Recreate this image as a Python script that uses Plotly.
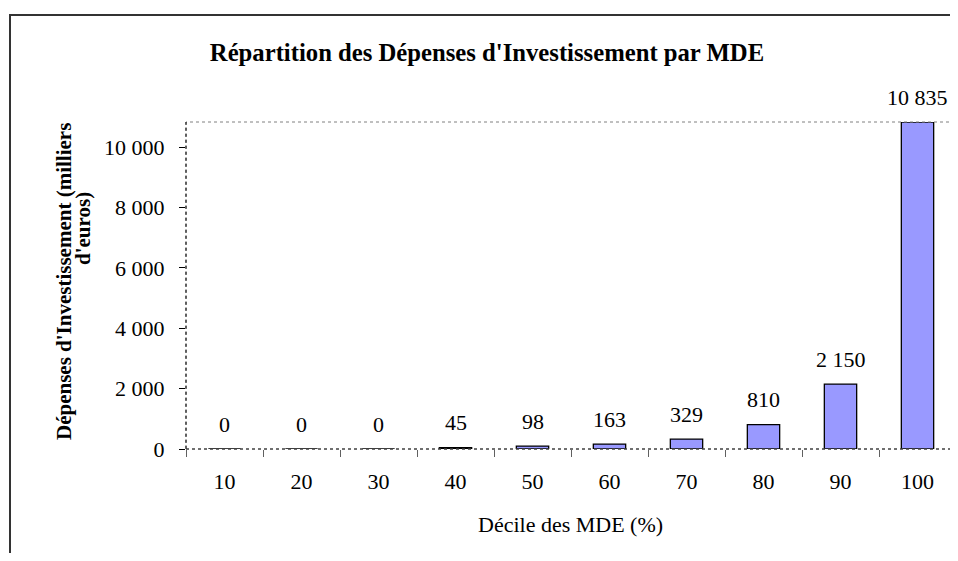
import plotly.graph_objects as go

# Données du graphique
deciles = ["10", "20", "30", "40", "50", "60", "70", "80", "90", "100"]
depenses = [0, 0, 0, 45, 98, 163, 329, 810, 2150, 10835]
y_ticks = [0, 2000, 4000, 6000, 8000, 10000]

titre = "Répartition des Dépenses d'Investissement par MDE"
titre_x = "Décile des MDE (%)"
titre_y = ["Dépenses d'Investissement (milliers", "d'euros)"]

FONT = "Liberation Serif"

# la page a une marge de 8 px : la figure est décalée de (8, 8)
OFF = 8
W, H = 950, 545
# zone de tracé (pixels écran) : x 186 -> 956, y 122 -> 449
L, R, T, B = 186 - OFF, 2, 122 - OFF, H - (449 - OFF)
pw, ph = W - L - R, H - T - B


def px(x):
    """pixel écran -> coordonnée paper"""
    return (x - OFF - L) / pw


def py(y):
    return (H - B - (y - OFF)) / ph


fig = go.Figure()
fig.add_trace(
    go.Bar(
        x=deciles,
        y=depenses,
        marker=dict(color="#9999FF", line=dict(color="black", width=1.3)),
        hoverinfo="x+y",
    )
)

# étiquettes de données (position = index de la catégorie)
for i, v in enumerate(depenses):
    fig.add_annotation(
        x=i,
        y=v,
        text=f"{v:,}".replace(",", " "),
        showarrow=False,
        xanchor="center",
        yanchor="middle",
        yshift=25,
        font=dict(family=FONT, size=22, color="black"),
    )

# titre de l'axe Y (deux lignes)
fig.add_annotation(
    x=px(64), y=py(282), xref="paper", yref="paper", text=f"<b>{titre_y[0]}</b>",
    xanchor="center", yanchor="middle",
    textangle=-90, showarrow=False, font=dict(family=FONT, size=21, color="black"),
)
fig.add_annotation(
    x=px(83), y=py(229), xref="paper", yref="paper", text=f"<b>{titre_y[1]}</b>",
    xanchor="center", yanchor="middle",
    textangle=-90, showarrow=False, font=dict(family=FONT, size=21, color="black"),
)

# titre de l'axe X
fig.add_annotation(
    x=px(570), y=py(524), xref="paper", yref="paper", text=titre_x,
    xanchor="center", yanchor="middle",
    showarrow=False, font=dict(family=FONT, size=22, color="black"),
)

# bordure de la zone de tracé (pointillés) + axes
fig.add_shape(type="rect", xref="paper", yref="paper", x0=0, x1=1, y0=0, y1=1,
              line=dict(color="#808080", width=1, dash="dot"))
fig.add_shape(type="line", xref="paper", yref="paper", x0=0, x1=0, y0=0, y1=1,
              line=dict(color="#202020", width=1.2, dash="dot"))
fig.add_shape(type="line", xref="paper", yref="paper", x0=0, x1=1, y0=0, y1=0,
              line=dict(color="#202020", width=1.2, dash="dot"))

# bordure du graphique
fig.add_shape(type="rect", xref="paper", yref="paper",
              x0=px(10), x1=px(1000), y0=py(620), y1=py(15),
              line=dict(color="#333333", width=2))

fig.update_layout(
    width=W,
    height=H,
    margin=dict(l=L, r=R, t=T, b=B),
    paper_bgcolor="white",
    plot_bgcolor="white",
    separators=", ",
    showlegend=False,
    bargap=0.58,
    font=dict(family=FONT, size=22, color="black"),
    title=dict(
        text=f"<b>{titre}</b>",
        x=(487 - OFF) / W,
        xanchor="center",
        y=1 - (52 - OFF) / H,
        yanchor="middle",
        font=dict(family=FONT, size=24.7, color="black"),
    ),
    xaxis=dict(
        type="category",
        range=[-0.5, len(deciles) - 0.5],
        showgrid=False,
        showline=False,
        zeroline=False,
        ticks="outside",
        tickson="boundaries",
        ticklen=7,
        tickcolor="#606060",
        ticklabelstandoff=17,
        tickangle=0,
        tickfont=dict(family=FONT, size=22),
    ),
    yaxis=dict(
        range=[0, max(depenses)],
        tickvals=y_ticks,
        tickformat=",d",
        showgrid=False,
        showline=False,
        zeroline=False,
        ticks="outside",
        ticklen=6,
        tickcolor="black",
        ticklabelstandoff=10,
        tickfont=dict(family=FONT, size=22),
    ),
)

fig.write_html("out.html")
